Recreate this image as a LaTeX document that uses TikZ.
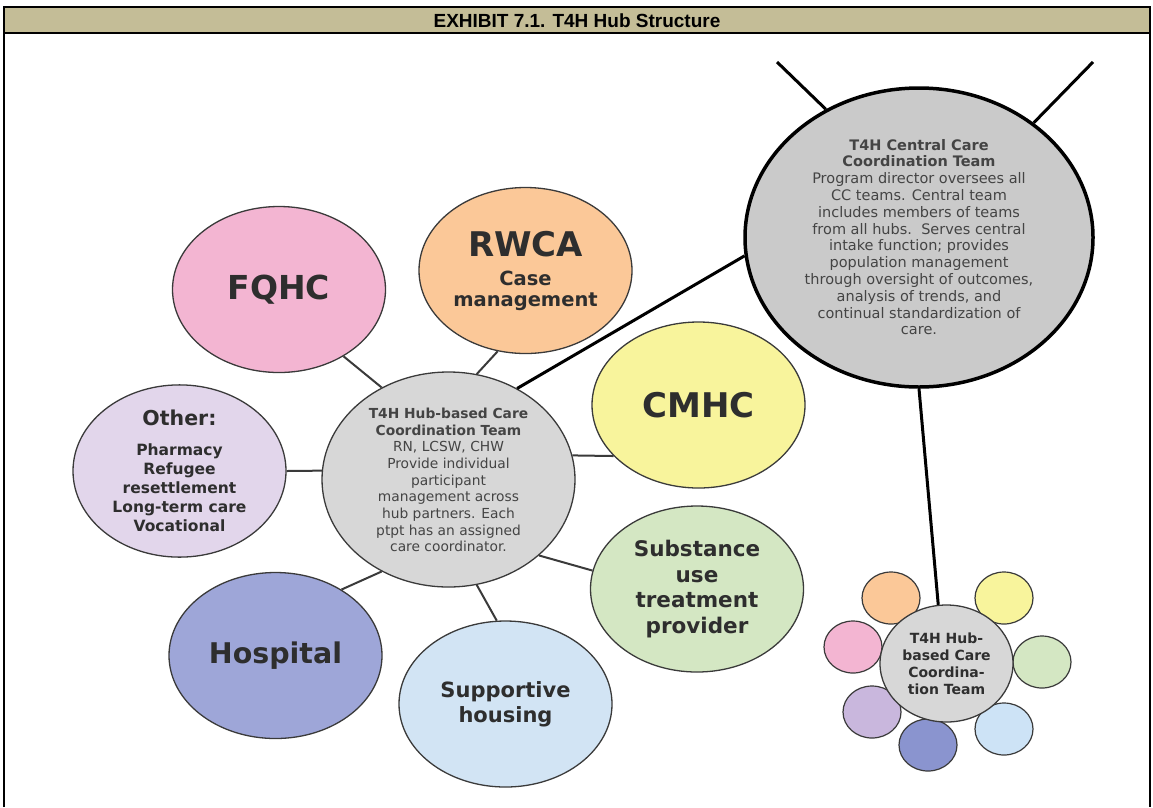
\documentclass[tikz,border=0pt]{standalone}
\usepackage{fontspec}
\setmainfont{DejaVu Sans}
\newfontfamily\titlefont{Liberation Sans}
\usetikzlibrary{shapes.geometric}

\definecolor{titletan}{HTML}{C4BD97}
\definecolor{fqhcpink}{HTML}{F3B5D2}
\definecolor{rwcaorange}{HTML}{FBC898}
\definecolor{cmhcyellow}{HTML}{F8F49C}
\definecolor{subgreen}{HTML}{D4E7C3}
\definecolor{supblue}{HTML}{D2E4F4}
\definecolor{hospblue}{HTML}{9EA6D8}
\definecolor{otherlilac}{HTML}{E2D6EB}
\definecolor{hubgray}{HTML}{D7D7D7}
\definecolor{ccgray}{HTML}{CACACA}
\definecolor{minidarkblue}{HTML}{8A94CF}
\definecolor{minililac}{HTML}{C9B7DD}
\definecolor{miniblue}{HTML}{CDE3F6}
\definecolor{rim}{HTML}{3A3A3A}
\definecolor{ink}{HTML}{2E2E2E}
\definecolor{hubink}{HTML}{444444}

\begin{document}
\begin{tikzpicture}[x=1pt, y=-1pt,
    ball/.style={ellipse, draw=rim, line width=1.3pt, fill=#1, inner sep=0pt,
        minimum width=213pt, minimum height=166pt, text=ink, align=center},
    dot/.style={ellipse, draw=rim, line width=1.2pt, fill=#1, inner sep=0pt,
        minimum width=58pt, minimum height=52pt},
    link/.style={draw=rim, line width=2pt},
    mainlink/.style={draw=black, line width=3pt}]
    \useasboundingbox (0,0) rectangle (1153,807);
    % frame and title bar
    \fill[titletan] (4,7) rectangle (1150,33);
    \draw[line width=2pt] (4,807) -- (4,7) -- (1150,7) -- (1150,807);
    \draw[line width=2pt] (4,33) -- (1150,33);
    \node[font=\titlefont\bfseries\fontsize{19}{21}\selectfont] (title) at (577,20.5) {EXHIBIT 7.1. T4H Hub Structure};
    % hub partners
    \node[ball=fqhcpink, font=\bfseries\fontsize{33}{36}\selectfont] (fqhc) at (279,289.5) {FQHC};
    \node[ball=rwcaorange, font=\bfseries\fontsize{19.5}{21}\selectfont] (rwca) at (525.5,270.5) {{\fontsize{34}{36}\selectfont RWCA}\\[8pt]Case\\management};
    \node[ball=otherlilac, font=\bfseries\fontsize{15.5}{19}\selectfont] (other) at (179.5,471) {{\fontsize{20.5}{22}\selectfont Other:}\\[11pt]Pharmacy\\Refugee\\resettlement\\Long-term care\\Vocational};
    \node[ball=cmhcyellow, font=\bfseries\fontsize{34}{36}\selectfont] (cmhc) at (698.5,405) {CMHC};
    \node[ball=subgreen, font=\bfseries\fontsize{21.5}{25.5}\selectfont] (subst) at (697,589) {Substance\\use\\treatment\\provider};
    \node[ball=hospblue, font=\bfseries\fontsize{28.5}{30}\selectfont] (hosp) at (275.5,655.5) {Hospital};
    \node[ball=supblue, font=\bfseries\fontsize{21}{25}\selectfont] (housing) at (505.5,704) {Supportive\\housing};
    % hub team
    \node[ball=hubgray, minimum width=253pt, minimum height=215pt] (hub) at (448.5,479.5) {};
    \node[text=hubink, align=center, font=\fontsize{13.8}{16.7}\selectfont] (hubtxt) at (448.5,480) {\textbf{T4H Hub-based Care}\\\textbf{Coordination Team}\\RN, LCSW, CHW\\Provide individual\\participant\\management across\\hub partners. Each\\ptpt has an assigned\\care coordinator.};
    % central team
    \node[ball=ccgray, draw=black, line width=3.5pt, minimum width=348pt, minimum height=299pt] (cc) at (919,237.5) {};
    \node[text=hubink, align=center, font=\fontsize{14.5}{16.8}\selectfont] (cctxt) at (919,237) {\textbf{T4H Central Care}\\\textbf{Coordination Team}\\Program director oversees all\\CC teams. Central team\\includes members of teams\\from all hubs.\ \ Serves central\\intake function; provides\\population management\\through oversight of outcomes,\\analysis of trends, and\\continual standardization of\\care.};
    % other hubs
    \node[dot=rwcaorange] (morange) at (891,598) {};
    \node[dot=cmhcyellow] (myellow) at (1004,598) {};
    \node[dot=subgreen] (mgreen) at (1042,662) {};
    \node[dot=miniblue] (mblue) at (1004,729) {};
    \node[dot=minidarkblue] (mdarkblue) at (928,745) {};
    \node[dot=minililac] (mlilac) at (872,712) {};
    \node[dot=fqhcpink] (mpink) at (853,647) {};
    \node[ball=hubgray, minimum width=133pt, minimum height=117pt, font=\bfseries\fontsize{14}{17}\selectfont] (mini) at (946.5,663.5) {T4H Hub-\\based Care\\Coordina-\\tion Team};
    \coordinate (nwend) at (777,62);
    \coordinate (neend) at (1093,62);
    % connectors
    \draw[link] (hub.126) -- (fqhc.314);
    \draw[link] (hub.75) -- (rwca.251);
    \draw[link] (hub.176) -- (other.0);
    \draw[link] (hub.11) -- (cmhc.211);
    \draw[link] (hub.320) -- (subst.170);
    \draw[link] (hub.234) -- (hosp.45);
    \draw[link] (hub.285) -- (housing.96);
    \draw[mainlink] (hub.53) -- (cc.186);
    \draw[mainlink] (cc.270) -- (mini.98);
    \draw[mainlink] (cc.126) -- (nwend);
    \draw[mainlink] (cc.45) -- (neend);
\end{tikzpicture}
\end{document}
